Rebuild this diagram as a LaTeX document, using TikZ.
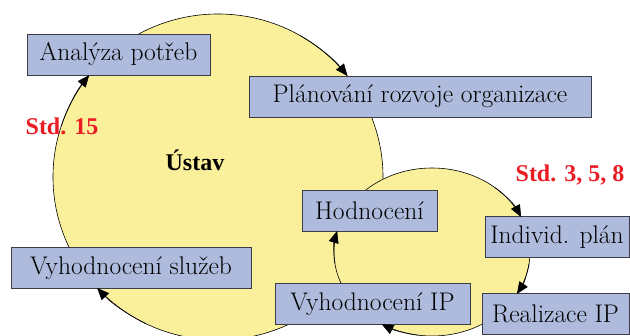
\documentclass[tikz,border=0pt]{standalone}
\usepackage{fontspec}
\usetikzlibrary{arrows.meta}
\newfontfamily\labelfont{Liberation Serif}
\definecolor{circfill}{RGB}{250,240,155}
\definecolor{boxfill}{RGB}{174,187,220}
\definecolor{boxline}{RGB}{60,60,72}
\definecolor{stdred}{RGB}{236,28,36}
\begin{document}
\begin{tikzpicture}[x=1pt,y=-1pt,
  cycle/.style={fill=circfill,draw=black,line width=0.6pt},
  stage/.style={rectangle,fill=boxfill,draw=boxline,line width=0.9pt,
    inner sep=0pt,minimum height=41,font=\fontsize{25.5}{28}\selectfont},
  flow/.style={draw=black,line width=0.6pt,-{Triangle[length=12pt,width=10pt]}},
  note/.style={font=\labelfont\fontsize{24}{26}\selectfont\bfseries}]
\useasboundingbox (0,0) rectangle (630,336);
\clip (0,0) rectangle (630,336);
\fill[white] (0,0) rectangle (630,336);

% the two cycles: organisation level and individual level
\coordinate (big) at (218,177);
\coordinate (small) at (432,252);
\path[cycle] (big) ellipse [x radius=165, y radius=163];
\path[cycle] (small) ellipse [x radius=98, y radius=84];

% stages of the cycles
\node[stage,minimum width=183] (analyza) at (118.5,54.5) {Analýza potřeb};
\node[stage,minimum width=342] (planovani) at (420,96.5) {Plánování rozvoje organizace};
\node[stage,minimum width=240] (sluzby) at (131,268) {Vyhodnocení služeb};
\node[stage,minimum width=135] (hodnoceni) at (369.5,211) {Hodnocení};
\node[stage,minimum width=144] (plan) at (557,237) {Individ. plán};
\node[stage,minimum width=147] (realizace) at (555.5,314) {Realizace IP};
\node[stage,minimum width=195] (vyhip) at (372.5,304) {Vyhodnocení IP};

% arrowheads running clockwise along the big cycle
\draw[flow] (big) ++(198:165 and 163) arc[start angle=198,end angle=218.7,x radius=165,y radius=163];
\draw[flow] (big) ++(300:165 and 163) arc[start angle=300,end angle=321.7,x radius=165,y radius=163];
\draw[flow] (big) ++(116:165 and 163) arc[start angle=116,end angle=137.1,x radius=165,y radius=163];

% arrowheads running clockwise along the small cycle
\draw[flow] (small) ++(-50:98 and 84) arc[start angle=-50,end angle=-24.6,x radius=98,y radius=84];
\draw[flow] (small) ++(8:98 and 84) arc[start angle=8,end angle=30,x radius=98,y radius=84];
\draw[flow] (small) ++(98:98 and 84) arc[start angle=98,end angle=121,x radius=98,y radius=84];
\draw[flow] (small) ++(172:98 and 84) arc[start angle=172,end angle=194.5,x radius=98,y radius=84];

% labels
\node[note] (ustav) at (195,160) {Ústav};
\node[note,text=stdred] (std15) at (62,126) {Std. 15};
\node[note,text=stdred] (std358) at (570,175) {Std. 3, 5, 8};
\end{tikzpicture}
\end{document}
